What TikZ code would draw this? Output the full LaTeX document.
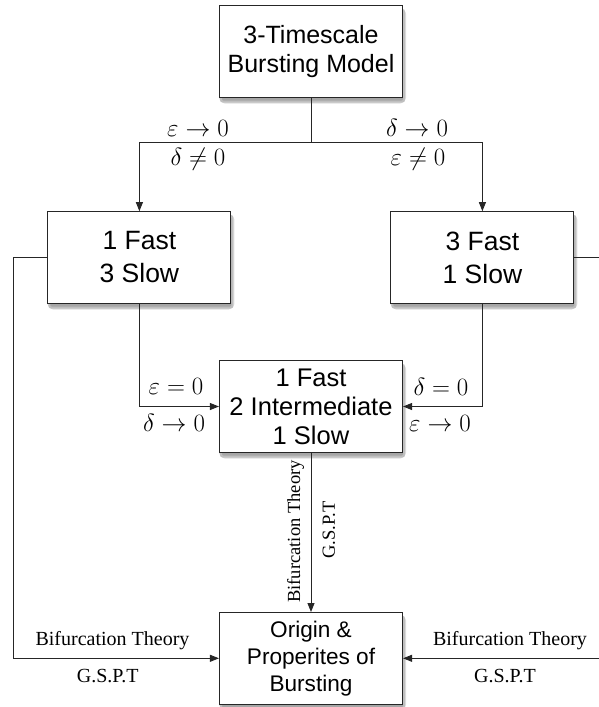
\documentclass[tikz,border=0pt]{standalone}
\usepackage{fontspec}
\setsansfont{Liberation Sans}
\newfontfamily\labfont{Liberation Serif}
\usetikzlibrary{arrows.meta}
\begin{document}
\begin{tikzpicture}[x=1pt,y=-1pt,
  box/.style={draw=black!85,line width=1.1pt,fill=white,minimum width=183pt,minimum height=91.5pt,inner sep=0pt,align=center},
  shad1/.style={fill=black!12,draw=black!12,line width=4pt,rounded corners=4pt},
  shad2/.style={fill=black!35,draw=black!25,line width=2pt,rounded corners=2pt},
  conn/.style={draw=black!85,line width=0.9pt},
  arr/.style={conn,-{Triangle[length=9pt,width=7pt]}},
  mlab/.style={inner sep=0pt,font=\fontsize{23.5}{27}\selectfont},
  tlab/.style={inner sep=0pt,font=\labfont\fontsize{20}{24}\selectfont},
  vlab/.style={inner sep=0pt,rotate=90,font=\labfont\fontsize{18.5}{22}\selectfont}]
\useasboundingbox (0,0) rectangle (598,707);
% drop shadows of the boxes
\path[shad1] (221,10) rectangle (404,101.5);
\path[shad2] (221,10) rectangle (404,101.5);
\path[shad1] (49.4,216) rectangle (232.4,307.5);
\path[shad2] (49.4,216) rectangle (232.4,307.5);
\path[shad1] (392.4,216) rectangle (575.4,307.5);
\path[shad2] (392.4,216) rectangle (575.4,307.5);
\path[shad1] (221,365) rectangle (404,456.5);
\path[shad2] (221,365) rectangle (404,456.5);
\path[shad1] (221,616.8) rectangle (404,708.3);
\path[shad2] (221,616.8) rectangle (404,708.3);
\node[box,font=\sffamily\fontsize{25}{29}\selectfont] (top) at (311,51.5) {3-Timescale\\Bursting Model};
\node[box,font=\sffamily\fontsize{26.5}{33}\selectfont] (left) at (139.4,257.5) {1 Fast\\3 Slow};
\node[box,font=\sffamily\fontsize{26.5}{33}\selectfont] (right) at (482.4,257.5) {3 Fast\\1 Slow};
\node[box,font=\sffamily\fontsize{25.5}{29}\selectfont] (mid) at (311,406.5) {1 Fast\\2 Intermediate\\1 Slow};
\node[box,font=\sffamily\fontsize{22.6}{27}\selectfont] (bot) at (311,658.3) {Origin \&\\Properites of\\Bursting};
\coordinate (j) at (311,142.7);
\coordinate (lc) at (13.3,257.5);
\coordinate (rc) at (601,257.5);
\draw[conn] (top) -- (j);
\draw[arr] (j) -| (left);
\draw[arr] (j) -| (right);
\draw[arr] (left) |- (mid);
\draw[arr] (right) |- (mid);
\draw[arr] (mid) -- (bot);
\draw[arr] (left.west) -- (lc) |- (bot);
\draw[arr] (right.east) -- (rc) |- (bot);
\node[mlab] at (198,128) {$\varepsilon\to 0$};
\node[mlab] at (198,159) {$\delta\neq 0$};
\node[mlab] at (417,128) {$\delta\to 0$};
\node[mlab] at (418,159) {$\varepsilon\neq 0$};
\node[mlab] at (176,386.7) {$\varepsilon= 0$};
\node[mlab] at (174,423) {$\delta\to 0$};
\node[mlab] at (441,386.7) {$\delta= 0$};
\node[mlab] at (440,423) {$\varepsilon\to 0$};
\node[tlab] at (112.5,641) {Bifurcation Theory};
\node[tlab] at (107.7,675.8) {G.S.P.T};
\node[tlab] at (510,641) {Bifurcation Theory};
\node[tlab] at (505,675.8) {G.S.P.T};
\node[vlab] at (295.6,531.5) {Bifurcation Theory};
\node[vlab] at (328.8,530) {G.S.P.T};
\end{tikzpicture}
\end{document}
